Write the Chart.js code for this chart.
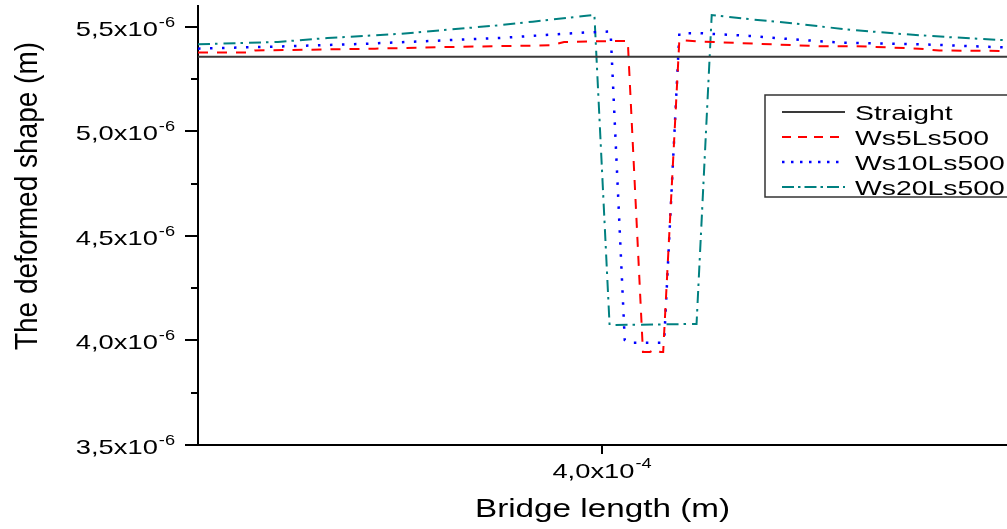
<!DOCTYPE html>
<html>
<head>
<meta charset="utf-8">
<title>Deformed shape</title>
<script src="https://cdn.jsdelivr.net/npm/chart.js@4.4.0/dist/chart.umd.min.js"></script>
<style>
  html, body { margin: 0; padding: 0; background: #fff; }
  canvas { display: block; }
</style>
</head>
<body>
<canvas id="shapeChart" width="1007" height="529"></canvas>
<script>
// x en unidades de 1e-4 m, y en unidades de 1e-6 m
var xTicks = [4.0];
var xTickLabels = ['4,0x10'];
var xTickExp = '-4';
var yTicks = [3.5, 4.0, 4.5, 5.0, 5.5];
var yTickLabels = ['3,5x10', '4,0x10', '4,5x10', '5,0x10', '5,5x10'];
var yTickExp = '-6';
var yMinorTicks = [3.75, 4.25, 4.75, 5.25];

var seriesNames = ['Straight', 'Ws5Ls500', 'Ws10Ls500', 'Ws20Ls500'];

var straightX = [3.600, 4.400];
var straightY = [5.357, 5.357];

var ws5X = [3.600, 3.652, 3.656, 3.775, 3.860, 3.950, 3.962, 4.017, 4.025, 4.040, 4.047, 4.052, 4.057, 4.060, 4.076, 4.096, 4.155, 4.214, 4.249, 4.313, 4.333, 4.400];
var ws5Y = [5.377, 5.377, 5.387, 5.396, 5.405, 5.412, 5.428, 5.433, 5.433, 3.945, 3.945, 3.959, 3.945, 3.945, 5.438, 5.430, 5.419, 5.408, 5.408, 5.396, 5.387, 5.385];

var ws10X = [3.600, 3.693, 3.764, 3.898, 3.982, 4.008, 4.022, 4.025, 4.058, 4.061, 4.076, 4.096, 4.145, 4.195, 4.239, 4.313, 4.392, 4.400];
var ws10Y = [5.396, 5.408, 5.419, 5.447, 5.473, 5.478, 4.002, 3.989, 3.989, 4.000, 5.470, 5.470, 5.457, 5.438, 5.424, 5.417, 5.403, 5.402];

var ws20X = [3.600, 3.679, 3.728, 3.801, 3.898, 3.931, 3.984, 3.992, 4.007, 4.093, 4.108, 4.145, 4.195, 4.239, 4.293, 4.343, 4.392, 4.400];
var ws20Y = [5.417, 5.428, 5.447, 5.467, 5.508, 5.525, 5.553, 5.557, 4.074, 4.079, 5.557, 5.537, 5.514, 5.489, 5.467, 5.451, 5.438, 5.436];

var FONT = "'Liberation Sans', Arial, sans-serif";

function toPoints(xs, ys) {
    return xs.map(function(x, i) { return { x: x, y: ys[i] }; });
}

// texto estirado en horizontal, como en la figura original
function drawText(ctx, text, x, y, size, sx, align) {
    ctx.save();
    ctx.font = size + 'px ' + FONT;
    ctx.translate(x, y);
    ctx.scale(sx, 1);
    ctx.textAlign = align || 'left';
    ctx.textBaseline = 'alphabetic';
    ctx.fillText(text, 0, 0);
    ctx.restore();
}

function textWidth(ctx, text, size, sx) {
    ctx.save();
    ctx.font = size + 'px ' + FONT;
    var w = ctx.measureText(text).width * sx;
    ctx.restore();
    return w;
}

var axisDecor = {
    id: 'axisDecor',
    afterDraw: function(chart) {
        var ctx = chart.ctx;
        var xs = chart.scales.x;
        var ys = chart.scales.y;
        var area = chart.chartArea;
        ctx.save();
        ctx.strokeStyle = '#000';
        ctx.fillStyle = '#000';
        ctx.lineWidth = 2;

        // eje Y: marcas y etiquetas
        yTicks.forEach(function(v, i) {
            var py = Math.round(ys.getPixelForValue(v));
            ctx.beginPath();
            ctx.moveTo(area.left - 13, py);
            ctx.lineTo(area.left, py);
            ctx.stroke();
            var right = area.left - 23;
            var supW = textWidth(ctx, yTickExp, 14, 1.3);
            drawText(ctx, yTickExp, right, py, 14, 1.3, 'right');
            drawText(ctx, yTickLabels[i], right - supW - 1, py + 9, 21, 1.3, 'right');
        });
        yMinorTicks.forEach(function(v) {
            var py = Math.round(ys.getPixelForValue(v));
            ctx.beginPath();
            ctx.moveTo(area.left - 7, py);
            ctx.lineTo(area.left, py);
            ctx.stroke();
        });

        // eje X
        xTicks.forEach(function(v, i) {
            var px = Math.round(xs.getPixelForValue(v));
            ctx.beginPath();
            ctx.moveTo(px, area.bottom);
            ctx.lineTo(px, area.bottom + 9);
            ctx.stroke();
            var mainW = textWidth(ctx, xTickLabels[i], 21, 1.3);
            var supW = textWidth(ctx, xTickExp, 14, 1.3);
            var start = px - (mainW + supW + 1) / 2;
            drawText(ctx, xTickLabels[i], start, area.bottom + 33, 21, 1.3, 'left');
            drawText(ctx, xTickExp, start + mainW + 1, area.bottom + 23, 14, 1.3, 'left');
        });

        // titulos de los ejes
        drawText(ctx, 'Bridge length (m)', xs.getPixelForValue(4.0), 517, 25, 1.33, 'center');
        ctx.save();
        ctx.font = '28px ' + FONT;
        ctx.translate(37, 196);
        ctx.scale(1.15, 1);
        ctx.rotate(-Math.PI / 2);
        ctx.textAlign = 'center';
        ctx.fillText('The deformed shape (m)', 0, 0);
        ctx.restore();

        // leyenda
        ctx.lineWidth = 1.5;
        ctx.strokeStyle = '#333';
        ctx.strokeRect(765, 95, 260, 102);
        var rows = [112, 137, 162, 187];
        chart.data.datasets.forEach(function(ds, i) {
            ctx.save();
            ctx.strokeStyle = ds.borderColor;
            ctx.lineWidth = ds.borderWidth;
            ctx.setLineDash(ds.legendDash || []);
            ctx.beginPath();
            ctx.moveTo(782, rows[i]);
            ctx.lineTo(845, rows[i]);
            ctx.stroke();
            ctx.restore();
            ctx.fillStyle = '#000';
            drawText(ctx, ds.label, 855, rows[i] + 7.5, 21, 1.35, 'left');
        });
        ctx.restore();
    }
};

var ctx1 = document.getElementById('shapeChart').getContext('2d');
var shapeChart = new Chart(ctx1, {
    type: 'line',
    data: {
        datasets: [{
            label: seriesNames[0],
            data: toPoints(straightX, straightY),
            borderColor: '#3a3a3a',
            borderWidth: 2,
            legendDash: []
        }, {
            label: seriesNames[1],
            data: toPoints(ws5X, ws5Y),
            borderColor: '#ff0000',
            borderWidth: 2,
            borderDash: [10, 9],
            legendDash: [9, 7]
        }, {
            label: seriesNames[2],
            data: toPoints(ws10X, ws10Y),
            borderColor: '#0000ff',
            borderWidth: 2.5,
            borderDash: [2.5, 9.5],
            legendDash: [2.5, 6.5]
        }, {
            label: seriesNames[3],
            data: toPoints(ws20X, ws20Y),
            borderColor: '#008080',
            borderWidth: 2,
            borderDash: [12, 5, 2.5, 6],
            legendDash: [12, 4, 2.5, 4]
        }]
    },
    options: {
        responsive: false,
        animation: false,
        devicePixelRatio: 1,
        layout: { padding: { left: 198, top: 6, right: 0, bottom: 84 } },
        elements: {
            point: { radius: 0 },
            line: { tension: 0, fill: false }
        },
        plugins: {
            legend: { display: false },
            tooltip: { enabled: false }
        },
        scales: {
            x: {
                type: 'linear',
                min: 3.6,
                max: 4.4,
                grid: { display: false, drawTicks: false, tickLength: 0 },
                ticks: { display: false },
                border: { display: true, color: '#000', width: 2 }
            },
            y: {
                type: 'linear',
                min: 3.5,
                max: 5.6,
                grid: { display: false, drawTicks: false, tickLength: 0 },
                ticks: { display: false },
                border: { display: true, color: '#000', width: 2 }
            }
        }
    },
    plugins: [axisDecor]
});
</script>
</body>
</html>
